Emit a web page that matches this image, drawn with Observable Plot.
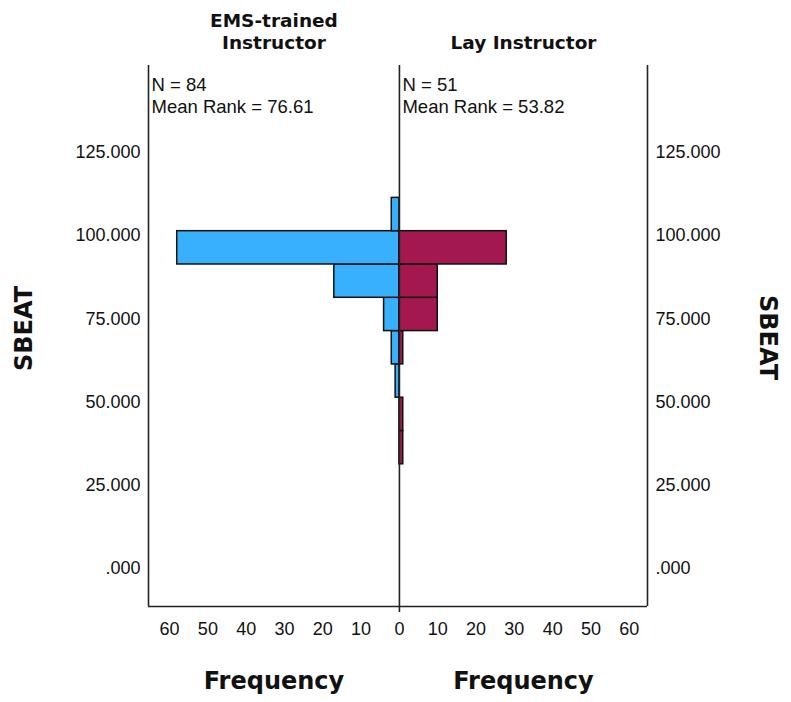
<!DOCTYPE html>
<html><head><meta charset="utf-8">
<script src="https://cdn.jsdelivr.net/npm/d3@7"></script>
<script src="https://cdn.jsdelivr.net/npm/@observablehq/plot@0.6"></script>
<style>body{margin:0;background:#fff}</style>
</head><body><div id="chart"></div>
<script>
const groups = ["EMS-trained\nInstructor", "Lay Instructor"];
const groupN = [84, 51];
const meanRanks = [76.61, 53.82];
const binStarts = [31.3, 41.3, 51.3, 61.3, 71.3, 81.3, 91.3, 101.3];
const binWidth = 10;
const emsCounts = [0, 0, 1, 2, 4, 17, 58, 2];
const layCounts = [1, 1, 0, 1, 10, 10, 28, 0];
const yTicks = [0, 25, 50, 75, 100, 125];
const xTicks = [-60, -50, -40, -30, -20, -10, 0, 10, 20, 30, 40, 50, 60];
const yLabel = "SBEAT";
const xLabel = "Frequency";
const colors = ["#38b0fc", "#a3194f"];

const xDomain = [-65.5, 64.75];
const yDomain = [-11.4, 151.05];

const bars = [];
binStarts.forEach((b, i) => {
  if (emsCounts[i] > 0) bars.push({group: groups[0], y1: b, y2: b + binWidth, x1: -emsCounts[i], x2: 0});
  if (layCounts[i] > 0) bars.push({group: groups[1], y1: b, y2: b + binWidth, x1: 0, x2: layCounts[i]});
});
const panels = groups.map((g, i) => ({
  title: g,
  stats: `N = ${groupN[i]}\nMean Rank = ${meanRanks[i].toFixed(2)}`,
  center: i === 0 ? xDomain[0] / 2 : xDomain[1] / 2,
  left: i === 0 ? xDomain[0] : 0
}));
const yFmt = d => d3.format(".3f")(d).replace(/^0\./, ".");
const lineColor = "#222";
const boldFont = "DejaVu Sans";

const chart = Plot.plot({
  width: 791,
  height: 702,
  marginLeft: 148,
  marginRight: 144,
  marginTop: 65,
  marginBottom: 96,
  style: {fontFamily: "Liberation Sans, Arial, sans-serif", fontSize: "18px", color: "#111", background: "#fff"},
  x: {domain: xDomain, label: null},
  y: {domain: yDomain, label: null},
  color: {domain: groups, range: colors},
  marks: [
    Plot.rect(bars, {x1: "x1", x2: "x2", y1: "y1", y2: "y2", fill: "group", stroke: "#111", strokeWidth: 1.5}),
    Plot.ruleX([xDomain[0], xDomain[1]], {stroke: lineColor, strokeWidth: 1.6}),
    Plot.ruleX([0], {stroke: lineColor, strokeWidth: 1.6, insetBottom: -6}),
    Plot.ruleY([yDomain[0]], {stroke: lineColor, strokeWidth: 1.6}),
    Plot.axisY({anchor: "left", ticks: yTicks, tickSize: 0, tickPadding: 8, tickFormat: yFmt, label: null, fontSize: 18}),
    Plot.axisY({anchor: "right", ticks: yTicks, tickSize: 0, tickPadding: 8, tickFormat: yFmt, label: null, fontSize: 18}),
    Plot.axisX({anchor: "bottom", ticks: xTicks, tickSize: 0, tickPadding: 16, tickFormat: d => Math.abs(d), label: null, fontSize: 18}),
    Plot.text(panels, {x: "center", frameAnchor: "top", text: "title", lineAnchor: "bottom", dy: -17, fontFamily: boldFont, fontWeight: "bold", fontSize: 18.5, lineHeight: 1.18}),
    Plot.text(panels, {x: "left", frameAnchor: "top", text: "stats", textAnchor: "start", lineAnchor: "top", dx: 3, dy: 10, fontSize: 18.5, lineHeight: 1.17}),
    Plot.text(panels, {x: "center", frameAnchor: "bottom", text: () => xLabel, lineAnchor: "bottom", dy: 82, fontFamily: boldFont, fontWeight: "bold", fontSize: 24}),
    Plot.text([yLabel], {frameAnchor: "left", text: d => d, textAnchor: "middle", rotate: -90, dx: -124, dy: -7.5, fontFamily: boldFont, fontWeight: "bold", fontSize: 24}),
    Plot.text([yLabel], {frameAnchor: "right", text: d => d, textAnchor: "middle", rotate: 90, dx: 120, dy: 1.5, fontFamily: boldFont, fontWeight: "bold", fontSize: 24})
  ]
});
document.getElementById("chart").append(chart);
</script>
</body></html>
